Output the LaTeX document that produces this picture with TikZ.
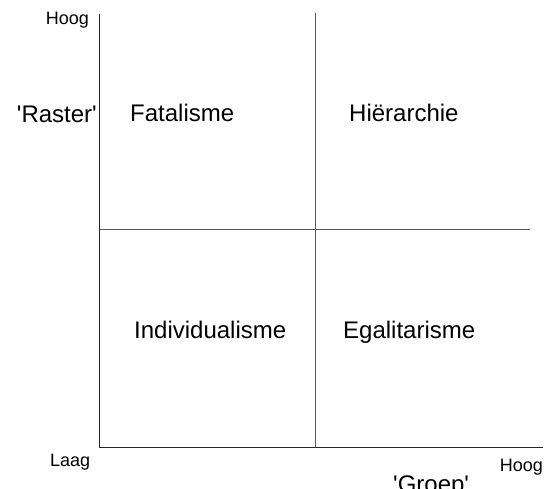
\documentclass[tikz,border=0pt]{standalone}
\usepackage{fontspec}
\setmainfont{Liberation Sans}
\begin{document}
\begin{tikzpicture}[x=1pt,y=-1pt,
  big/.style={inner sep=0pt,font=\fontsize{24}{28}\selectfont},
  small/.style={inner sep=0pt,font=\fontsize{18}{21}\selectfont},
  axis/.style={line width=0.9pt,black!85},
  divider/.style={line width=0.9pt,black!65}]
\useasboundingbox (0,0) rectangle (544,489);
% axes
\coordinate (top) at (99,14);
\coordinate (origin) at (99,447);
\coordinate (right) at (543,447);
\coordinate (mtop) at (315,13);
\coordinate (mbot) at (315,447);
\coordinate (hl) at (100,229);
\coordinate (hr) at (530,229);
\draw[axis] (top) -- (origin) -- (right);
\draw[divider] (mtop) -- (mbot);
\draw[divider] (hl) -- (hr);
% labels
\node[small,anchor=base east] (hoogy) at (89,25) {Hoog};
\node[big,anchor=base east] (raster) at (97,123) {\textquotesingle Raster\textquotesingle};
\node[big,anchor=base west] (fatal) at (130,122) {Fatalisme};
\node[big,anchor=base west] (hier) at (349,122) {Hiërarchie};
\node[big,anchor=base west] (indiv) at (134,338) {Individualisme};
\node[big,anchor=base west] (egal) at (343,338) {Egalitarisme};
\node[small,anchor=base west] (laag) at (50,466) {Laag};
\node[small,anchor=base east] (hoogx) at (543,471) {Hoog};
\node[big,anchor=base west] (groep) at (393,492) {\textquotesingle Groep\textquotesingle};
\end{tikzpicture}
\end{document}
